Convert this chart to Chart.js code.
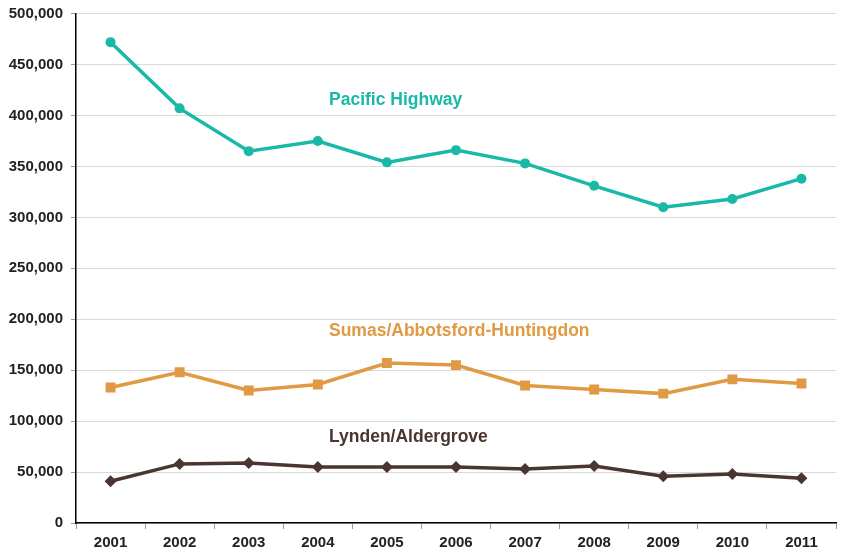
<!DOCTYPE html>
<html>
<head>
<meta charset="utf-8">
<script src="https://cdn.jsdelivr.net/npm/chart.js@4/dist/chart.umd.min.js"></script>
<style>
  html, body { margin: 0; padding: 0; background: #fff; }
  #wrap { width: 843px; height: 551px; }
</style>
</head>
<body>
<div id="wrap"><canvas id="c" width="843" height="551"></canvas></div>
<script>
const years = ['2001','2002','2003','2004','2005','2006','2007','2008','2009','2010','2011'];
const pacificHighway = [472000, 407000, 365000, 375000, 354000, 366000, 353000, 331000, 310000, 318000, 338000];
const sumasAbbotsford = [133000, 148000, 130000, 136000, 157000, 155000, 135000, 131000, 127000, 141000, 137000];
const lyndenAldergrove = [41000, 58000, 59000, 55000, 55000, 55000, 53000, 56000, 46000, 48000, 44000];
const seriesNames = ['Pacific Highway', 'Sumas/Abbotsford-Huntingdon', 'Lynden/Aldergrove'];
const yTicks = [0, 50000, 100000, 150000, 200000, 250000, 300000, 350000, 400000, 450000, 500000];

const colors = ['#18b9a7', '#e09a43', '#4b3530'];
const FONT = '"Liberation Sans", Arial, sans-serif';

const labelPlugin = {
  id: 'seriesLabels',
  afterDatasetsDraw(chart) {
    const ctx = chart.ctx;
    ctx.save();
    ctx.font = 'bold 17.5px ' + FONT;
    ctx.textAlign = 'left';
    ctx.textBaseline = 'middle';
    const pos = [[329, 100], [329, 331], [329, 437]];
    seriesNames.forEach((n, i) => {
      ctx.fillStyle = colors[i];
      ctx.fillText(n, pos[i][0], pos[i][1]);
    });
    ctx.restore();
  }
};

function ds(label, data, color, style, r) {
  return {
    label, data,
    borderColor: color, backgroundColor: color,
    borderWidth: 3.5,
    pointStyle: style,
    pointRadius: r,
    pointBorderWidth: 0,
    tension: 0
  };
}

new Chart(document.getElementById('c'), {
  type: 'line',
  data: {
    labels: years,
    datasets: [
      ds(seriesNames[0], pacificHighway, colors[0], 'circle', 5),
      ds(seriesNames[1], sumasAbbotsford, colors[1], 'rect', 7),
      ds(seriesNames[2], lyndenAldergrove, colors[2], 'rectRot', 6)
    ]
  },
  options: {
    responsive: false,
    animation: false,
    layout: { padding: { top: 0, right: 5, left: 0, bottom: 0 } },
    plugins: { legend: { display: false }, tooltip: { enabled: false } },
    scales: {
      x: {
        offset: true,
        afterFit(scale) { scale.height = 28; },
        grid: { display: true, drawOnChartArea: false, offset: true, tickLength: 6, tickColor: '#999' },
        border: { color: '#000', width: 1.5 },
        ticks: { color: '#222', font: { family: FONT, size: 15, weight: 'bold' }, padding: 5, maxRotation: 0 }
      },
      y: {
        min: 0, max: 500000,
        afterBuildTicks(scale) { scale.ticks = yTicks.map(v => ({ value: v })); },
        afterFit(scale) { scale.width = 76; },
        grid: { color: '#d9d9d9', lineWidth: 1, tickLength: 5, tickColor: '#999' },
        border: { color: '#000', width: 1.5 },
        ticks: {
          color: '#222',
          font: { family: FONT, size: 15, weight: 'bold', lineHeight: 0.75 },
          padding: 8,
          callback: v => v.toLocaleString('en-US')
        }
      }
    }
  },
  plugins: [labelPlugin]
});
</script>
</body>
</html>
